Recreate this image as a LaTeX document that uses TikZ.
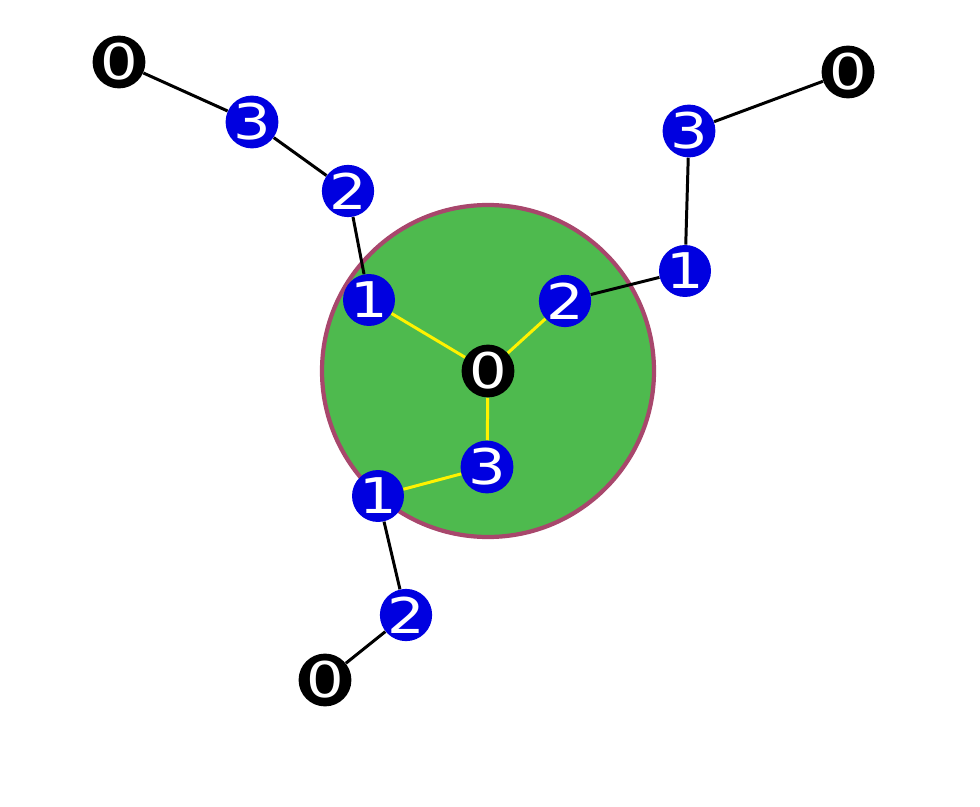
\documentclass[tikz,border=0pt]{standalone}
\usepackage{fontspec}
\usepackage{xcolor}
\newfontfamily\digitfont[FakeStretch=1.2]{DejaVu Sans}
\definecolor{blobgreen}{HTML}{4EBA4E}
\definecolor{blobrim}{HTML}{A8476C}
\definecolor{atomblue}{HTML}{0000E0}

\begin{document}
\begin{tikzpicture}[x=0.02cm,y=-0.02cm,
                blue atom/.style={circle, fill=atomblue, text=white, minimum size=1.04cm, inner sep=0pt, font=\digitfont\fontsize{28}{28}\selectfont},
                black atom/.style={blue atom, fill=black},
                bond/.style={line width=1.7pt, black},
                core bond/.style={line width=1.7pt, yellow}]
                \useasboundingbox (0,0) rectangle (980,807);
                \filldraw[fill=blobgreen, draw=blobrim, line width=2.4pt] (488,371) circle (166);
                % core
                \node[black atom] (c0) at (488,371) {0};
                \node[blue atom] (c1) at (369,300) {1};
                \node[blue atom] (c2) at (565,301) {2};
                \node[blue atom] (c3) at (487,467) {3};
                % arm to the upper left
                \node[blue atom] (a2) at (348,191) {2};
                \node[blue atom] (a3) at (252,122) {3};
                \node[black atom] (a0) at (119,62) {0};
                % arm to the upper right
                \node[blue atom] (b1) at (685,271) {1};
                \node[blue atom] (b3) at (689,131) {3};
                \node[black atom] (b0) at (848,72) {0};
                % arm to the bottom
                \node[blue atom] (d1) at (378,496) {1};
                \node[blue atom] (d2) at (406,615) {2};
                \node[black atom] (d0) at (325,680) {0};
                \draw[core bond] (c0) -- (c1);
                \draw[core bond] (c0) -- (c2);
                \draw[core bond] (c0) -- (c3);
                \draw[core bond] (c3) -- (d1);
                \draw[bond] (c1) -- (a2) -- (a3) -- (a0);
                \draw[bond] (c2) -- (b1) -- (b3) -- (b0);
                \draw[bond] (d1) -- (d2) -- (d0);
            \end{tikzpicture}
\end{document}
